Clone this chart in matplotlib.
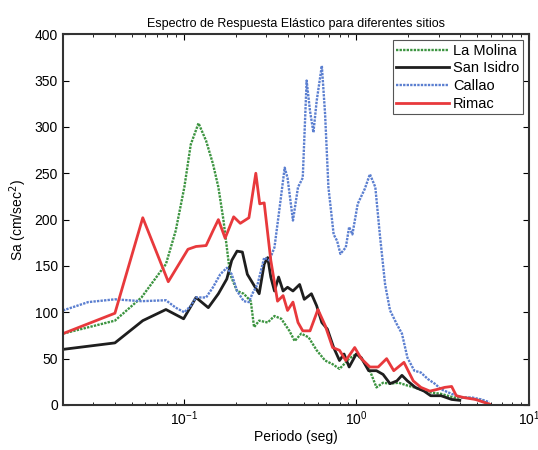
import numpy as np
import matplotlib
matplotlib.use("Agg")
import matplotlib.pyplot as plt

plt.rcParams['font.family'] = ['Liberation Sans', 'DejaVu Sans']

# periodos (seg) y Sa (cm/sec^2)
t_molina = [0.02, 0.04, 0.057, 0.079, 0.090, 0.101, 0.110, 0.122, 0.135, 0.148, 0.159, 0.170,
            0.186, 0.204, 0.223, 0.245, 0.256, 0.274, 0.307, 0.336, 0.368, 0.41, 0.44, 0.48,
            0.53, 0.59, 0.66, 0.73, 0.80, 0.85, 0.91, 1.0, 1.09, 1.2, 1.31, 1.43, 1.57, 1.76,
            1.98, 2.17, 2.6, 3.1, 3.7, 4.4, 5.3, 5.9]
sa_molina = [77, 91, 116, 152, 188, 235, 281, 304, 285, 260, 235, 200,
             141, 123, 120, 112, 84, 91, 89, 96, 93, 80, 69, 77,
             73, 59, 48, 44, 39, 44, 50, 55, 48, 37, 19, 24, 23, 24,
             21, 19, 14, 12, 8, 8, 5, 1]

t_isidro = [0.02, 0.04, 0.058, 0.079, 0.1, 0.118, 0.139, 0.159, 0.178, 0.19, 0.204, 0.219,
            0.234, 0.256, 0.274, 0.293, 0.307, 0.32, 0.336, 0.355, 0.377, 0.40, 0.43, 0.47,
            0.5, 0.55, 0.59, 0.632, 0.68, 0.74, 0.8, 0.85, 0.91, 1.0, 1.07, 1.18, 1.31, 1.43,
            1.57, 1.72, 1.84, 1.98, 2.2, 2.47, 2.7, 3.1, 3.57, 3.98]
sa_isidro = [60, 67, 91, 103, 93, 116, 105, 120, 136, 156, 166, 165,
             141, 129, 120, 152, 159, 138, 123, 138, 123, 127, 123, 130,
             114, 120, 107, 89, 82, 62, 48, 55, 41, 55, 51, 37, 37, 33,
             23, 26, 32, 26, 19, 15, 10, 10, 6, 5]

t_callao = [0.02, 0.028, 0.04, 0.057, 0.079, 0.09, 0.101, 0.11, 0.118, 0.135, 0.148, 0.163,
            0.178, 0.19, 0.204, 0.223, 0.239, 0.25, 0.268, 0.293, 0.314, 0.336, 0.36, 0.385,
            0.40, 0.43, 0.46, 0.49, 0.516, 0.54, 0.565, 0.59, 0.632, 0.66, 0.69, 0.74,
            0.775, 0.81, 0.87, 0.91, 0.95, 1.02, 1.12, 1.2, 1.29, 1.37, 1.47, 1.57, 1.72,
            1.84, 1.98, 2.17, 2.37, 2.6, 2.85, 3.1, 3.57, 4.1, 4.7, 5.3, 5.9]
sa_callao = [102, 111, 114, 112, 113, 105, 100, 107, 116, 116, 127, 141,
             148, 141, 123, 112, 111, 120, 130, 159, 156, 170, 213, 256,
             245, 199, 235, 245, 350, 317, 294, 328, 366, 314, 235, 184,
             177, 163, 170, 192, 184, 217, 233, 249, 235, 184, 130, 102, 87,
             77, 51, 37, 35, 28, 23, 17, 12, 8, 8, 6, 3]

t_rimac = [0.02, 0.04, 0.058, 0.0815, 0.094, 0.106, 0.118, 0.135, 0.148, 0.159, 0.174, 0.195,
           0.213, 0.239, 0.262, 0.276, 0.293, 0.32, 0.35, 0.377, 0.4, 0.43, 0.46, 0.49,
           0.54, 0.6, 0.66, 0.73, 0.8, 0.87, 0.98, 1.07, 1.2, 1.34, 1.5, 1.65, 1.89, 2.14,
           2.37, 2.67, 2.97, 3.25, 3.57, 3.8, 4.2, 4.9, 5.9]
sa_rimac = [77, 99, 202, 133, 152, 168, 171, 172, 188, 200, 180, 203,
            196, 202, 250, 217, 218, 156, 112, 118, 102, 111, 89, 80,
            80, 103, 86, 62, 59, 48, 62, 50, 41, 41, 50, 37, 46, 26,
            19, 15, 17, 19, 20, 10, 8, 6, 1]

fig = plt.figure(figsize=(5.38, 4.5), dpi=100)
ax = fig.add_axes([0.117, 0.1, 0.866, 0.824])

ax.semilogx(t_molina, sa_molina, color='#3c9440', linestyle=(0, (1, 0.5)), linewidth=1.7, label='La Molina')
ax.semilogx(t_isidro, sa_isidro, color='#1e1e1e', linestyle='-', linewidth=2.0, label='San Isidro')
ax.semilogx(t_callao, sa_callao, color='#5b7fd0', linestyle=(0, (1, 0.5)), linewidth=1.7, label='Callao')
ax.semilogx(t_rimac, sa_rimac, color='#e8393c', linestyle='-', linewidth=2.0, label='Rimac')

ax.set_xlim(0.02, 10)
ax.set_ylim(0, 400)
ax.set_yticks(np.arange(0, 401, 50))
ax.tick_params(which='both', direction='in', top=True, right=True, labelsize=10)
ax.tick_params(which='major', length=4)
ax.tick_params(which='minor', length=2)
for s in ax.spines.values():
    s.set_linewidth(1.5)
    s.set_color('#333333')

ax.set_title('Espectro de Respuesta Elástico para diferentes sitios', fontsize=9, pad=5)
ax.set_xlabel('Periodo (seg)', fontsize=10, labelpad=1)
ax.set_ylabel('Sa (cm/sec$^2$)', fontsize=10, labelpad=4)

leg = ax.legend(loc='upper right', fontsize=10.5, fancybox=False, framealpha=1,
                edgecolor='#555555', handlelength=3.6, borderpad=0.25, labelspacing=0.25,
                handletextpad=0.3, borderaxespad=0.4)
leg.get_frame().set_linewidth(0.8)

fig.savefig('out.png', dpi=100)
